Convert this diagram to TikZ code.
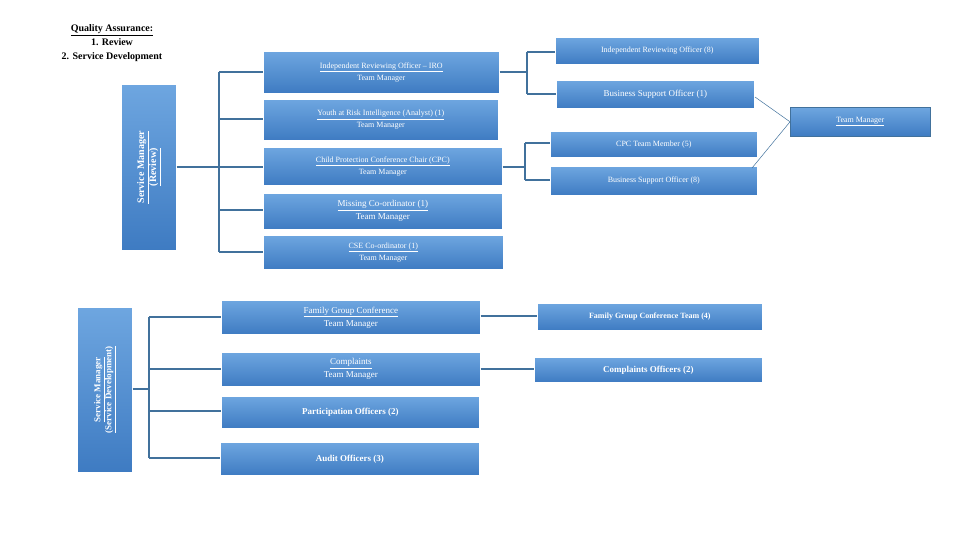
\documentclass[tikz,border=0pt]{standalone}
\usepackage{fontspec}
\setmainfont{Liberation Serif}
\begin{document}
\begin{tikzpicture}[x=1pt,y=-1pt,
 box/.style={draw=white,line width=0.6pt,top color=boxtop,bottom color=boxbot,text=white,inner sep=0pt,anchor=north west,align=center,font=\fontsize{8}{12}\selectfont},
 ln/.style={draw=lncol,line width=1.6pt},
 thin/.style={draw=lncol,line width=0.5pt}]
\definecolor{boxtop}{HTML}{6EA6E0}
\definecolor{boxbot}{HTML}{3E7BC2}
\definecolor{lncol}{HTML}{41719C}
\useasboundingbox (0,0) rectangle (960,540);
\node[align=center,font=\fontsize{10}{14}\selectfont\bfseries] (title) at (112,43) {\underline{Quality Assurance:}\\1. Review\\2. Service Development};
% review
\node[box,minimum width=55pt,minimum height=166pt] (smr) at (121,84) {};
\node[rotate=90,text=white,align=center,font=\fontsize{10}{12}\selectfont\bfseries] at (smr.center) {\underline{Service Manager}\\\underline{(Review)}};
\node[box,minimum width=236pt,minimum height=42pt] (iro) at (263,51) {\underline{Independent Reviewing Officer -- IRO}\\Team Manager};
\node[box,minimum width=235pt,minimum height=41pt] (yar) at (263,99) {\underline{Youth at Risk Intelligence (Analyst) (1)}\\Team Manager};
\node[box,minimum width=239pt,minimum height=38pt] (cpc) at (263,147) {\underline{Child Protection Conference Chair (CPC)}\\Team Manager};
\node[box,minimum width=239pt,minimum height=36pt,font=\fontsize{9}{13}\selectfont] (mis) at (263,193) {\underline{Missing Co-ordinator (1)}\\Team Manager};
\node[box,minimum width=240pt,minimum height=34pt] (cse) at (263,235) {\underline{CSE Co-ordinator (1)}\\Team Manager};
\coordinate (bx) at (219,167);
\draw[ln] (smr.east|-bx) -- (bx);
\draw[ln] (219,72) -- (219,252);
\foreach \n/\y in {iro/72,yar/119,cpc/167,mis/210,cse/252} \draw[ln] (219,\y) -- (\n.west|-{(0,\y)});
\node[box,minimum width=204pt,minimum height=27pt] (iro8) at (555,37) {Independent Reviewing Officer (8)};
\node[box,minimum width=198pt,minimum height=28pt,font=\fontsize{9}{12}\selectfont] (bso1) at (556,80) {Business Support Officer (1)};
\node[box,minimum width=207pt,minimum height=26pt] (cpcm) at (550,131) {CPC Team Member (5)};
\node[box,minimum width=207pt,minimum height=29pt] (bso8) at (550,166) {Business Support Officer (8)};
\node[box,minimum width=140pt,minimum height=29pt,draw=lncol] (tm) at (790,107) {\underline{Team Manager}};
\draw[ln] (iro.east|-{(0,72)}) -- (527,72);
\draw[ln] (527,52) -- (527,94);
\draw[ln] (527,52) -- (iro8.west|-{(0,52)});
\draw[ln] (527,94) -- (bso1.west|-{(0,94)});
\draw[ln] (cpc.east|-{(0,167)}) -- (525,167);
\draw[ln] (525,143) -- (525,180);
\draw[ln] (525,143) -- (cpcm.west|-{(0,143)});
\draw[ln] (525,180) -- (bso8.west|-{(0,180)});
\draw[thin] (755,97) -- (tm.west) -- (752,168);
% development
\node[box,minimum width=55pt,minimum height=165pt] (smd) at (77,307) {};
\node[rotate=90,text=white,align=center,font=\fontsize{9}{11}\selectfont\bfseries] at (smd.center) {\underline{Service Manager}\\\underline{(Service Development)}};
\node[box,minimum width=259pt,minimum height=34pt,font=\fontsize{9}{13}\selectfont] (fgc) at (221,300) {\underline{Family Group Conference}\\Team Manager};
\node[box,minimum width=259pt,minimum height=34pt,font=\fontsize{9}{13}\selectfont] (cmp) at (221,352) {\underline{Complaints}\\Team Manager};
\node[box,minimum width=258pt,minimum height=32pt,font=\fontsize{9}{13}\selectfont\bfseries] (par) at (221,396) {Participation Officers (2)};
\node[box,minimum width=259pt,minimum height=33pt,font=\fontsize{9}{13}\selectfont\bfseries] (aud) at (220,442) {Audit Officers (3)};
\draw[ln] (smd.east|-{(0,389)}) -- (149,389);
\draw[ln] (149,317) -- (149,458);
\foreach \n/\y in {fgc/317,cmp/369,par/411,aud/458} \draw[ln] (149,\y) -- (\n.west|-{(0,\y)});
\node[box,minimum width=225pt,minimum height=27pt,font=\fontsize{8}{12}\selectfont\bfseries] (fgct) at (537,303) {Family Group Conference Team (4)};
\node[box,minimum width=228pt,minimum height=25pt,font=\fontsize{9}{12}\selectfont\bfseries] (cmpo) at (534,357) {Complaints Officers (2)};
\draw[ln] (fgc.east|-{(0,316)}) -- (fgct.west|-{(0,316)});
\draw[ln] (cmp.east|-{(0,369)}) -- (cmpo.west|-{(0,369)});
\end{tikzpicture}
\end{document}
